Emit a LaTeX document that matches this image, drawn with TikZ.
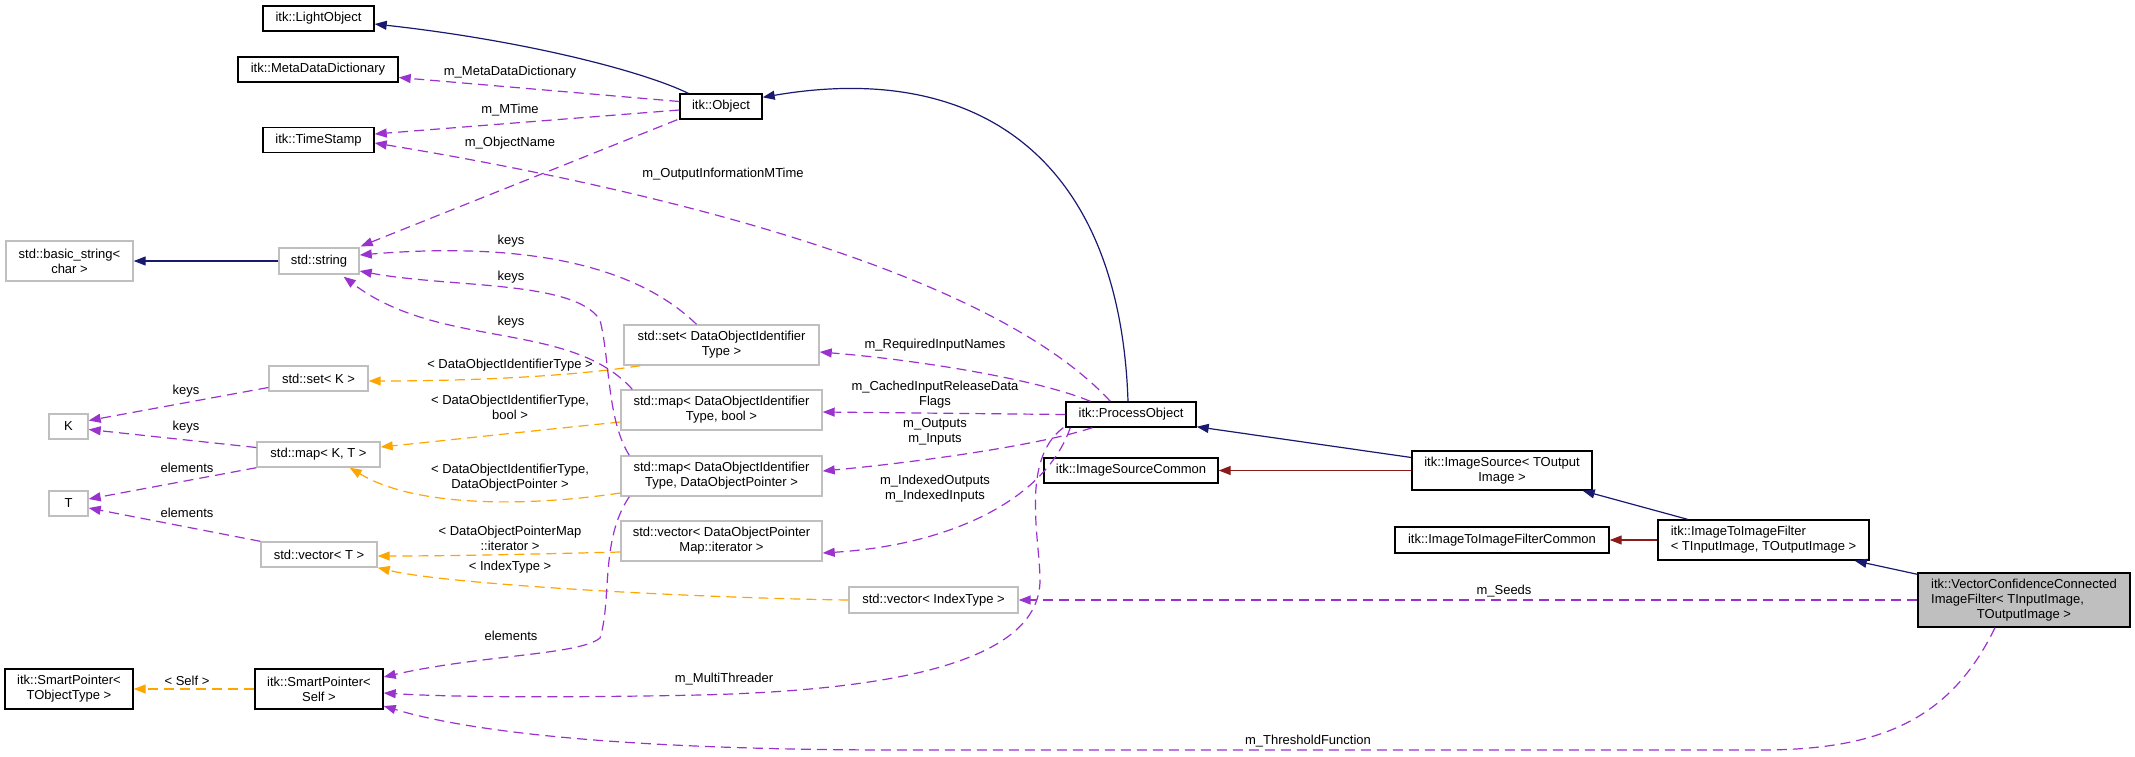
\documentclass[tikz,border=0pt]{standalone}
\usepackage{fontspec}
\setmainfont{Liberation Sans}
\usetikzlibrary{arrows.meta,calc}
\definecolor{inhblue}{HTML}{191970}
\definecolor{usepurple}{HTML}{9A32CD}
\definecolor{tplorange}{HTML}{FFA500}
\definecolor{protred}{HTML}{8B1A1A}
\definecolor{boxgray}{HTML}{BFBFBF}

\begin{document}
\begin{tikzpicture}[x=0.5pt, y=-0.5pt,
  every node/.style={font=\fontsize{6.5}{7.5}\selectfont, inner sep=0pt},
  cls/.style={draw=black, line width=0.7pt, fill=white, align=center, minimum height=12.5pt},
  ext/.style={cls, draw=boxgray},
  lbl/.style={align=center},
  inh/.style={inhblue, line width=0.6pt, -{Triangle[length=6pt,width=4.5pt]}},
  prot/.style={inh, protred},
  uses/.style={usepurple, line width=0.6pt, dash pattern=on 5pt off 3pt, -{Triangle[length=6pt,width=4.5pt]}},
  tpl/.style={uses, tplorange}]

  \useasboundingbox (0,0) rectangle (2135,756);

  % --- 1. クラスのノード ---
  \node[cls, minimum width=55.5pt] (lightobj) at (318.5,18.5) {itk::LightObject};
  \node[cls, minimum width=80pt] (metadict) at (318,69.5) {itk::MetaDataDictionary};
  \node[cls, minimum width=41pt] (object) at (721,106.5) {itk::Object};
  \node[cls, minimum width=55.5pt] (timestamp) at (318.5,140) {itk::TimeStamp};
  \node[ext, minimum width=63.5pt, minimum height=20pt] (basicstr) at (69.5,261) {std::basic\_string<\\char >};
  \node[ext, minimum width=40pt, minimum height=13pt] (stdstring) at (319,261) {std::string};
  \node[ext, minimum width=97.5pt, minimum height=20pt] (setid) at (721.5,345) {std::set< DataObjectIdentifier\\Type >};
  \node[ext, minimum width=49.5pt] (setk) at (318.5,378.5) {std::set< K >};
  \node[ext, minimum width=100.5pt, minimum height=20pt] (mapbool) at (721.5,410) {std::map< DataObjectIdentifier\\Type, bool >};
  \node[cls, minimum width=65pt] (procobj) at (1131,414.5) {itk::ProcessObject};
  \node[ext, minimum width=19.5pt] (keyk) at (68.5,426.5) {K};
  \node[ext, minimum width=61.5pt] (mapkt) at (318.5,454.5) {std::map< K, T >};
  \node[cls, minimum width=90pt, minimum height=19.5pt] (imgsrc) at (1502,470.5) {itk::ImageSource< TOutput\\Image >};
  \node[ext, minimum width=100.5pt, minimum height=20pt] (mapdop) at (721.5,476) {std::map< DataObjectIdentifier\\Type, DataObjectPointer >};
  \node[cls, minimum width=87pt] (srccommon) at (1131,470.5) {itk::ImageSourceCommon};
  \node[ext, minimum width=19.5pt] (elemt) at (68.5,503.5) {T};
  \node[ext, minimum width=100.5pt, minimum height=20pt] (vecmap) at (721.5,541) {std::vector< DataObjectPointer\\Map::iterator >};
  \node[cls, minimum width=105.5pt, minimum height=20pt, align=left] (i2ifilter) at (1763.5,540) {itk::ImageToImageFilter\\< TInputImage, TOutputImage >};
  \node[cls, minimum width=107pt, minimum height=13pt] (i2ifcommon) at (1502,540) {itk::ImageToImageFilterCommon};
  \node[ext, minimum width=58pt] (vect) at (319,554.5) {std::vector< T >};
  \node[ext, minimum width=84.5pt, minimum height=13pt] (vecidx) at (933.5,600) {std::vector< IndexType >};
  \node[cls, fill=boxgray, minimum width=106pt, minimum height=27pt] (vccif) at (2024,600)
    {\begin{tabular}{@{}l@{}}itk::VectorConfidenceConnected\\ImageFilter< TInputImage,\\\multicolumn{1}{@{}c@{}}{TOutputImage >}\end{tabular}};
  \node[cls, minimum width=64pt, minimum height=20pt] (smarttot) at (69,689) {itk::SmartPointer<\\TObjectType >};
  \node[cls, minimum width=64pt, minimum height=20pt] (smartself) at (319,689) {itk::SmartPointer<\\Self >};

  % --- 2. 継承 (青・赤) ---
  \draw[inh] ($(object.north west)+(9,0)$) .. controls (640,70) and (520,40) .. ($(lightobj.east)+(0,5.5)$);
  \draw[inh] ($(procobj.north)+(-3,0)$) .. controls (1120,160) and (980,60) .. ($(object.north east)+(0,4)$);
  \draw[inh] ($(imgsrc.west)+(0,-13)$) -- ($(procobj.south east)+(0,-1)$);
  \draw[inh] ($(i2ifilter.north)+(-76,0)$) -- ($(imgsrc.south east)+(-10,0)$);
  \draw[inh] ($(vccif.north west)+(0,2)$) -- ($(i2ifilter.south east)+(-15,0)$);
  \draw[inh] (stdstring.west) -- (basicstr.east);
  \draw[prot] (imgsrc.west) -- (srccommon.east);
  \draw[prot] (i2ifilter.west) -- (i2ifcommon.east);

  % --- 3. テンプレート (橙) ---
  \draw[tpl] (smartself.west) -- (smarttot.east);
  \node (lself) at (187,681) {< Self >};
  \draw[tpl] ($(setid.south west)+(17,0)$) .. controls (560,378) and (450,381) .. ($(setk.east)+(0,2.5)$);
  \node (lsetid) at (510,365) {< DataObjectIdentifierType >};
  \draw[tpl] ($(mapbool.west)+(0,12)$) .. controls (540,430) and (450,440) .. ($(mapkt.east)+(0,-7.5)$);
  \node[lbl] (lmapbool) at (510,407.5) {< DataObjectIdentifierType,\\bool >};
  \draw[tpl] ($(mapdop.west)+(0,17)$) .. controls (540,505) and (420,510) .. ($(mapkt.south east)+(-31,0)$);
  \node[lbl] (lmapdop) at (510,478) {< DataObjectIdentifierType,\\DataObjectPointer >};
  \draw[tpl] ($(vecmap.west)+(0,11)$) .. controls (540,554) and (450,556) .. ($(vect.east)+(0,1.5)$);
  \node[lbl] (lvecmap) at (510,538) {< DataObjectPointerMap\\::iterator >};
  \draw[tpl] (vecidx.west) .. controls (700,598) and (450,585) .. (vect.south east);
  \node (lvecidx) at (510,567) {< IndexType >};

  % --- 4. メンバ (紫) ---
  \draw[uses] ($(object.west)+(0,-5)$) -- ($(metadict.east)+(0,8)$);
  \node (lmeta) at (510,72) {m\_MetaDataDictionary};
  \draw[uses] ($(object.west)+(0,3.5)$) -- ($(timestamp.east)+(0,-6)$);
  \node (lmtime) at (510,110) {m\_MTime};
  \draw[uses] ($(procobj.north west)+(45,0)$) .. controls (980,260) and (600,180) .. ($(timestamp.east)+(0,3)$);
  \node (loutmtime) at (723,174) {m\_OutputInformationMTime};
  \draw[uses] ($(object.south west)+(-2,0)$) -- ($(stdstring.north east)+(1,-1)$);
  \node (lobjname) at (510,143) {m\_ObjectName};

  \draw[uses] ($(setid.north)+(-25,0)$) .. controls (620,250) and (480,245) .. ($(stdstring.east)+(0,-6)$);
  \node (lkeysset) at (511,241) {keys};
  \draw[uses] ($(mapdop.north west)+(9,0)$) .. controls (607,420) and (610,360) .. (600,320)
    .. controls (575,280) and (450,288) .. ($(stdstring.east)+(0,10)$);
  \node (lkeysmap) at (511,277) {keys};
  \draw[uses] ($(mapbool.north west)+(12,0)$) .. controls (570,320) and (440,350) .. ($(stdstring.south east)+(-16,2)$);
  \node (lkeysbool) at (511,322) {keys};
  \draw[uses] ($(mapdop.south west)+(9,0)$) .. controls (600,540) and (612,600) .. (600,638)
    .. controls (580,655) and (480,655) .. ($(smartself.east)+(0,-12)$);
  \node (lelemsp) at (511,636) {elements};

  \draw[uses] ($(setk.west)+(0,9)$) -- ($(keyk.east)+(0,-6)$);
  \node (lkeys1) at (186,391) {keys};
  \draw[uses] ($(mapkt.west)+(0,-7)$) -- ($(keyk.east)+(0,3)$);
  \node (lkeys2) at (186,427) {keys};
  \draw[uses] (mapkt.south west) -- ($(elemt.east)+(0,-4.5)$);
  \node (lelem1) at (187,468) {elements};
  \draw[uses] (vect.north west) -- ($(elemt.east)+(0,4.5)$);
  \node (lelem2) at (187,513) {elements};

  % ProcessObject のメンバ
  \draw[uses] ($(procobj.north west)+(25,0)$) .. controls (1040,380) and (920,360) .. ($(setid.east)+(0,7)$);
  \node (lreq) at (935,345) {m\_RequiredInputNames};
  \draw[uses] (procobj.west) -- ($(mapbool.east)+(0,2)$);
  \node[lbl] (lcached) at (935,395) {m\_CachedInputReleaseData\\Flags};
  \draw[uses] ($(procobj.south west)+(27,0)$) .. controls (1040,445) and (920,462) .. ($(mapdop.east)+(0,-5)$);
  \node[lbl] (lputs) at (935,431.5) {m\_Outputs\\m\_Inputs};
  \draw[uses] ($(procobj.south west)+(5,0)$) .. controls (1045,500) and (950,545) .. ($(vecmap.east)+(0,12)$);
  \node[lbl] (lindexed) at (935,488.5) {m\_IndexedOutputs\\m\_IndexedInputs};
  \draw[uses] ($(procobj.south west)+(-2,0)$) .. controls (1020,460) and (1040,540) .. (1040,580)
    .. controls (1040,660) and (900,690) .. (700,695) .. controls (550,698) and (450,697) .. ($(smartself.east)+(0,4)$);
  \node (lmt) at (724,679) {m\_MultiThreader};

  % フィルタのメンバ
  \draw[uses] (vccif.west) -- (vecidx.east);
  \node (lseeds) at (1504,591) {m\_Seeds};
  \draw[uses] ($(vccif.south)+(-29,0)$) .. controls (1950,720) and (1880,750) .. (1760,750) -- (900,750)
    .. controls (650,750) and (480,735) .. ($(smartself.east)+(0,17)$);
  \node (lthresh) at (1308,741) {m\_ThresholdFunction};

\end{tikzpicture}
\end{document}
